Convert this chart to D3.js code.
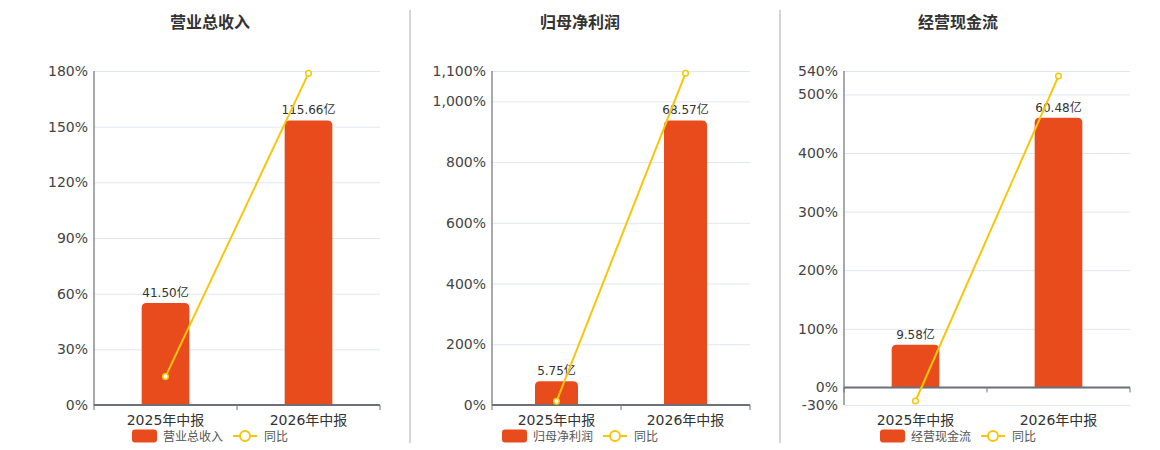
<!DOCTYPE html>
<html lang="zh">
<head>
<meta charset="UTF-8">
<title>财务指标</title>
<script src="https://cdn.jsdelivr.net/npm/d3@7/dist/d3.min.js"></script>
<style>
	body { margin: 0; background: #fff; }
	svg { font-family: "DejaVu Sans", "Noto Sans CJK SC", sans-serif; }
	.title { font-size: 16px; font-weight: bold; fill: #333; font-family: "Noto Sans CJK SC", sans-serif; }
	.ytick text { font-size: 14px; fill: #444; }
	.xlab { font-size: 14px; fill: #333; }
	.barlab { font-size: 12px; fill: #333; }
	.legend text { font-size: 12px; fill: #555; font-family: "Noto Sans CJK SC", sans-serif; }
</style>
</head>
<body>
<script>
// data
var categories = ["2025年中报", "2026年中报"];
var titles = ["营业总收入", "归母净利润", "经营现金流"];

var revenue = [41.50, 115.66];
var revenueYoy = [15.3, 178.7];
var netProfit = [5.75, 68.57];
var netProfitYoy = [12.0, 1092.5];
var cashFlow = [9.58, 60.48];
var cashFlowYoy = [-23.2, 531.3];

var revenueTicks = [0, 30, 60, 90, 120, 150, 180];
var netProfitTicks = [0, 200, 400, 600, 800, 1000, 1100];
var cashFlowTicks = [-30, 0, 100, 200, 300, 400, 500, 540];

var barColor = "#e84c1d",
	lineColor = "#f5c70a",
	plotTop = 71, plotBottom = 405;

var panels = [
	{title: titles[0], bars: revenue, yoy: revenueYoy, ticks: revenueTicks, left: 94, right: 380, cx: 210},
	{title: titles[1], bars: netProfit, yoy: netProfitYoy, ticks: netProfitTicks, left: 492, right: 750, cx: 580},
	{title: titles[2], bars: cashFlow, yoy: cashFlowYoy, ticks: cashFlowTicks, left: 844, right: 1130, cx: 958}
];

var svg = d3.select("body").append("svg")
	.attr("width", 1160)
	.attr("height", 450);

// dividers
[410, 780].forEach(function (x) {
	svg.append("line")
		.attr("x1", x).attr("x2", x)
		.attr("y1", 10).attr("y2", 443)
		.attr("stroke", "#aaa").attr("stroke-width", 1);
});

var fmt = d3.formatLocale({decimal: ".", thousands: ",", grouping: [3], currency: ["", ""], minus: "-"}).format(",");

function topRounded(x, y, w, h, r) {
	r = Math.min(r, h, w / 2);
	return "M" + x + "," + (y + h) +
		"V" + (y + r) +
		"Q" + x + "," + y + " " + (x + r) + "," + y +
		"H" + (x + w - r) +
		"Q" + (x + w) + "," + y + " " + (x + w) + "," + (y + r) +
		"V" + (y + h) + "Z";
}

panels.forEach(function (p) {
	var g = svg.append("g");

	var y = d3.scaleLinear()
		.domain(d3.extent(p.ticks))
		.range([plotBottom, plotTop]);

	var x = d3.scaleBand()
		.domain(categories)
		.range([p.left, p.right]);

	var zeroY = y(0);
	var yBar = d3.scaleLinear()
		.domain([0, d3.max(p.bars) / 0.852])
		.range([zeroY, plotTop]);

	// title
	g.append("text")
		.attr("class", "title")
		.attr("x", p.cx).attr("y", 28)
		.attr("text-anchor", "middle")
		.text(p.title);

	// grid
	g.append("g")
		.attr("transform", "translate(" + p.left + ",0)")
		.call(d3.axisRight(y).tickValues(p.ticks).tickSize(p.right - p.left).tickFormat(""))
		.call(function (s) {
			s.select(".domain").remove();
			s.selectAll(".tick line").attr("stroke", "#e0e6f1");
		});

	// y labels
	var yAxis = g.append("g")
		.attr("class", "ytick")
		.attr("transform", "translate(" + p.left + ",0)")
		.call(d3.axisLeft(y).tickValues(p.ticks).tickSize(0).tickPadding(6)
			.tickFormat(function (d) { return fmt(d) + "%"; }));
	yAxis.select(".domain").remove();
	yAxis.attr("font-size", null).attr("font-family", null);

	// y axis line
	g.append("line")
		.attr("x1", p.left).attr("x2", p.left)
		.attr("y1", plotTop).attr("y2", plotBottom)
		.attr("stroke", "#6e7079").attr("stroke-width", 1.2);

	// bars
	var bw = x.bandwidth() / 3;
	g.selectAll(".bar")
		.data(p.bars)
		.enter().append("path")
		.attr("class", "bar")
		.attr("fill", barColor)
		.attr("d", function (d, i) {
			var cx = x(categories[i]) + x.bandwidth() / 2;
			return topRounded(cx - bw / 2, yBar(d), bw, zeroY - yBar(d), 5);
		});

	g.selectAll(".barlab")
		.data(p.bars)
		.enter().append("text")
		.attr("class", "barlab")
		.attr("text-anchor", "middle")
		.attr("x", function (d, i) { return x(categories[i]) + x.bandwidth() / 2; })
		.attr("y", function (d) { return yBar(d) - 6; })
		.text(function (d) { return d.toFixed(2) + "亿"; });

	// x axis line at zero
	g.append("line")
		.attr("x1", p.left).attr("x2", p.right)
		.attr("y1", zeroY).attr("y2", zeroY)
		.attr("stroke", "#6e7079").attr("stroke-width", 2);

	var bounds = categories.map(function (c) { return x(c); }).concat([p.right]);
	g.selectAll(".xtick")
		.data(bounds)
		.enter().append("line")
		.attr("class", "xtick")
		.attr("x1", function (d) { return d; }).attr("x2", function (d) { return d; })
		.attr("y1", zeroY).attr("y2", zeroY + 5)
		.attr("stroke", "#6e7079");

	g.selectAll(".xlab")
		.data(categories)
		.enter().append("text")
		.attr("class", "xlab")
		.attr("text-anchor", "middle")
		.attr("x", function (d) { return x(d) + x.bandwidth() / 2; })
		.attr("y", plotBottom + 20)
		.text(function (d) { return d; });

	// yoy line
	var line = d3.line()
		.x(function (d, i) { return x(categories[i]) + x.bandwidth() / 2; })
		.y(function (d) { return y(d); });

	g.append("path")
		.datum(p.yoy)
		.attr("d", line)
		.attr("fill", "none")
		.attr("stroke", lineColor)
		.attr("stroke-width", 2);

	g.selectAll(".dot")
		.data(p.yoy)
		.enter().append("circle")
		.attr("class", "dot")
		.attr("cx", function (d, i) { return x(categories[i]) + x.bandwidth() / 2; })
		.attr("cy", function (d) { return y(d); })
		.attr("r", 2.8)
		.attr("fill", "#fff")
		.attr("stroke", lineColor)
		.attr("stroke-width", 1.5);

	// legend
	var lg = g.append("g").attr("class", "legend")
		.attr("transform", "translate(" + (p.cx - 78) + ",436)");
	lg.append("rect")
		.attr("x", 0).attr("y", -6.5)
		.attr("width", 25).attr("height", 13)
		.attr("rx", 3)
		.attr("fill", barColor);
	lg.append("text")
		.attr("x", 31).attr("y", 4.5)
		.text(p.title);
	lg.append("line")
		.attr("x1", 101).attr("x2", 125)
		.attr("y1", 0).attr("y2", 0)
		.attr("stroke", lineColor).attr("stroke-width", 2);
	lg.append("circle")
		.attr("cx", 113).attr("cy", 0).attr("r", 5)
		.attr("fill", "#fff")
		.attr("stroke", lineColor).attr("stroke-width", 2);
	lg.append("text")
		.attr("x", 132).attr("y", 4.5)
		.text("同比");
});
</script>
</body>
</html>
